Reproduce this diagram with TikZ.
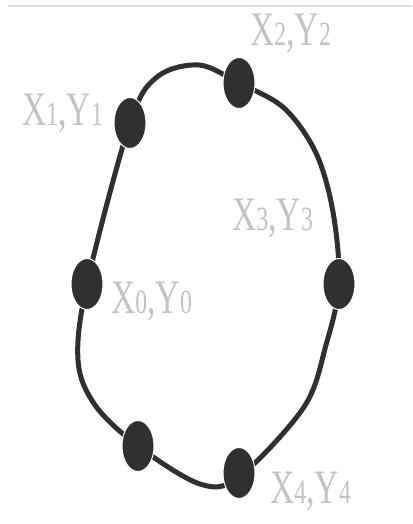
\documentclass[tikz,border=0pt]{standalone}
\usepackage{fontspec}
\setmainfont{Liberation Serif}[FakeStretch=0.7]
\usetikzlibrary{shapes.geometric}
\definecolor{labgray}{RGB}{195,195,195}
\definecolor{dotgray}{RGB}{48,48,48}
\newcommand{\pointlabel}[1]{X{\fontsize{34}{34}\selectfont #1},Y{\fontsize{34}{34}\selectfont #1}}

\begin{document}
\begin{tikzpicture}[x=1pt, y=-1pt,
          knot/.style={ellipse, fill=dotgray, draw=white, line width=1pt, minimum width=32pt, minimum height=51pt, inner sep=0pt},
          lab/.style={anchor=base west, inner sep=0pt, text=labgray, font=\fontsize{48}{48}\selectfont},
          rim/.style={draw=dotgray, line width=5pt}]
        \useasboundingbox (0,0) rectangle (412,524);
        \draw[black!12, line width=1.2pt] (8,6) -- (412,6);
        \coordinate (c0) at (87,284);
        \coordinate (c1) at (130,123);
        \coordinate (c2) at (239,83);
        \coordinate (c3) at (339,284);
        \coordinate (c4) at (239,477);
        \coordinate (c5) at (138,446);
        \coordinate (t1) at (157,77);
        \coordinate (t2) at (199,65);
        \coordinate (r1) at (284,108);
        \coordinate (r2) at (316,153);
        \coordinate (r3) at (333,212);
        \coordinate (r4) at (326,345);
        \coordinate (r5) at (304,407);
        \coordinate (bt) at (200,484);
        \coordinate (l1) at (95,405);
        \coordinate (l2) at (78,360);
        \draw[rim] plot[smooth cycle, tension=0.55] coordinates {(c0) (c1) (t1) (t2) (c2) (r1) (r2) (r3) (c3) (r4) (r5) (c4) (bt) (c5) (l1) (l2)};
        \node[knot] (d0) at (c0) {};
        \node[knot] (d1) at (c1) {};
        \node[knot] (d2) at (c2) {};
        \node[knot] (d3) at (c3) {};
        \node[knot] (d4) at (239,473) {};
        \node[knot] (d5) at (c5) {};
        \node[lab] (l0) at (111,313) {\pointlabel{0}};
        \node[lab] (l1) at (22,125) {\pointlabel{1}};
        \node[lab] (l2) at (250,46) {\pointlabel{2}};
        \node[lab] (l3) at (232,230) {\pointlabel{3}};
        \node[lab] (l4) at (270,503) {\pointlabel{4}};
      \end{tikzpicture}
\end{document}
